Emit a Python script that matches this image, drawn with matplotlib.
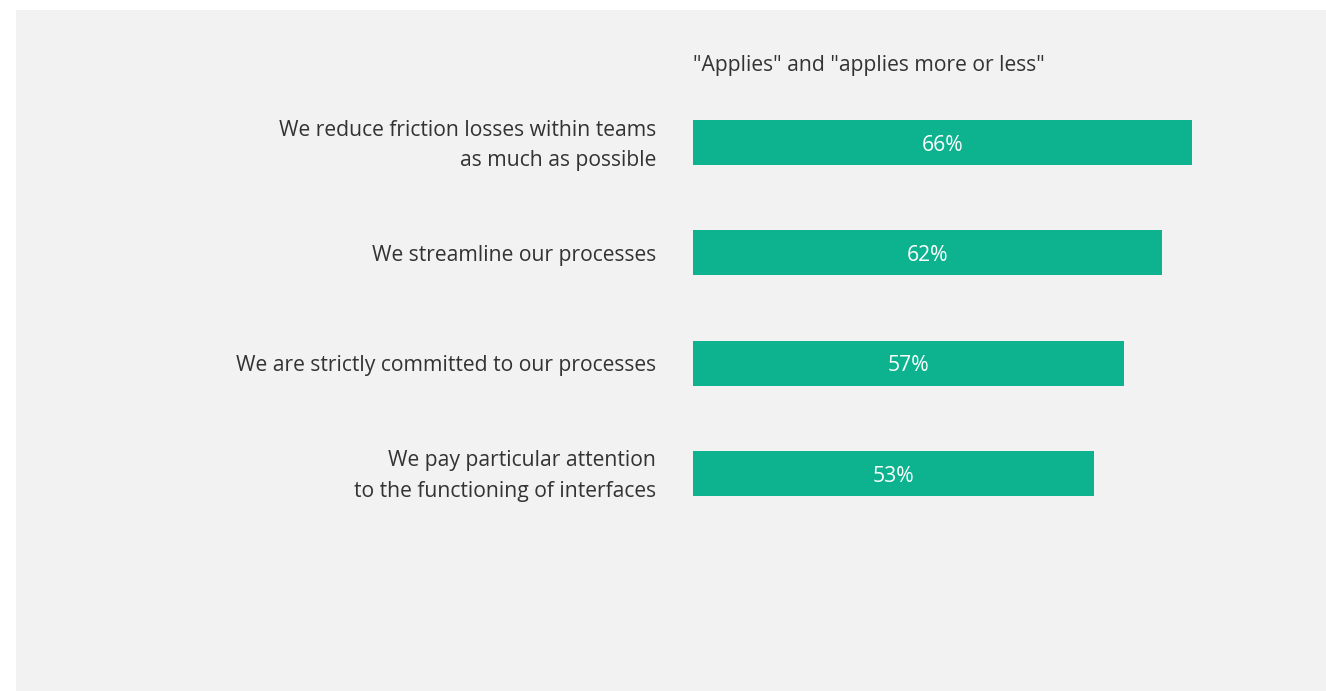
import matplotlib.pyplot as plt
from matplotlib.patches import Rectangle
from matplotlib.transforms import ScaledTranslation

# survey statements and share answering "applies" / "applies more or less"
statements = [
    "We reduce friction losses within teams\nas much as possible",
    "We streamline our processes",
    "We are strictly committed to our processes",
    "We pay particular attention\nto the functioning of interfaces",
]
shares = [66, 62, 57, 53]

W, H = 1326, 691
bar_color = "#0db38f"
panel_color = "#f1f2f1"
text_color = "#333333"
fs = 15.2

plt.rcParams['font.family'] = ['Open Sans', 'DejaVu Sans']

fig = plt.figure(figsize=(W / 100, H / 100), dpi=100)
fig.patch.set_facecolor("white")
# light grey panel behind the chart
fig.patches.append(Rectangle((16 / W, 0), 1 - 16 / W, 1 - 10 / H,
                             transform=fig.transFigure, facecolor=panel_color,
                             edgecolor="none", zorder=-5))

slot = 110.3
top_px = 142.5 - slot / 2
bot_px = top_px + 4 * slot
left_px, right_px = 693, 1293
ax = fig.add_axes([left_px / W, 1 - bot_px / H, (right_px - left_px) / W, (bot_px - top_px) / H])
ax.set_facecolor("none")
ax.set_xlim(0, (right_px - left_px) / (499 / 66))
ax.set_ylim(3.5, -0.5)

ypos = list(range(len(shares)))
ax.barh(ypos, shares, height=45 / slot, color=bar_color, left=0)
for y, v in zip(ypos, shares):
    ax.text(v / 2, y + 0.025, f"{v}%", ha="center", va="center", color="white", fontsize=fs)

ax.set_yticks(ypos)
ax.set_yticklabels(statements, fontsize=fs, color=text_color, ha="right", linespacing=1.6)
ax.tick_params(axis="y", length=0, pad=37 * 0.72)
# two-line labels sit a little low, nudge them up
for lbl in ax.get_yticklabels():
    if "\n" in lbl.get_text():
        lbl.set_transform(lbl.get_transform() + ScaledTranslation(0, 0.045, fig.dpi_scale_trans))
ax.set_xticks([])
for s in ax.spines.values():
    s.set_visible(False)

fig.text(693 / W, 1 - 66 / H, '"Applies" and "applies more or less"', ha="left", va="center",
         fontsize=fs, color=text_color)

fig.savefig("out.png", dpi=100, facecolor=fig.get_facecolor())
